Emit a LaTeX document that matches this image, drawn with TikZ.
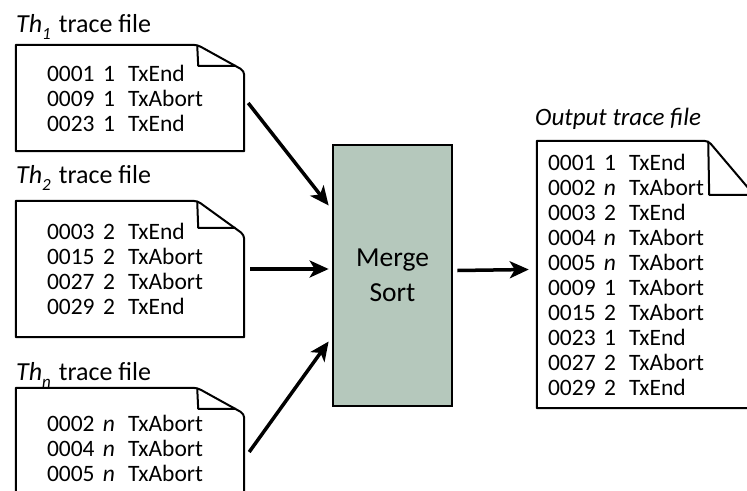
\documentclass[tikz,border=0pt]{standalone}
\usepackage{fontspec}
\setmainfont{Carlito}
\usepackage{tikz}
\usetikzlibrary{arrows.meta}
\definecolor{sortfill}{RGB}{181,200,188}
\newcommand{\thr}[1]{\textit{Th}\raisebox{-7pt}{\fontsize{17}{17}\selectfont\textit{#1}}\hspace{8pt}}
\newcommand{\ev}[3]{\makebox[53pt][l]{#1}\makebox[18pt]{#2}\hspace{10pt}#3}
% outline of a trace file: node, fold width, fold depth, flap depth
\newcommand{\tracedoc}[4]{%
	\draw[docline] (#1.south west) -- (#1.north west) [rounded corners=4pt] -- ([xshift=-#2pt]#1.north east) -- ([yshift=-#3pt]#1.north east) [sharp corners] -- (#1.south east) -- cycle;
	\draw[docline] ([xshift=-#2pt]#1.north east) -- ++(1pt,-#4pt) -- ([xshift={(-#2+#2*#4/#3+1)*1pt}, yshift=-#4pt]#1.north east);
}

\begin{document}
\begin{tikzpicture}[x=1pt, y=-1pt,
		docline/.style={line width=2pt, line join=round},
		docbox/.style={rectangle, inner ysep=0pt, align=left, font=\fontsize{23.5}{25}\selectfont},
		filetitle/.style={anchor=base west, inner sep=0pt, font=\fontsize{26}{30}\selectfont},
		flow/.style={line width=3.5pt, -{Stealth[length=19pt, width=17pt, inset=5pt]}}]
		\useasboundingbox (0,0) rectangle (747,490);
		\clip (0,0) rectangle (747,490);
		
		\draw (16,32) node[filetitle] (t1) {\thr{1}trace file};
		\draw (16,183) node[filetitle] (t2) {\thr{2}trace file};
		\draw (16,380) node[filetitle] (tn) {\thr{n}trace file};
		\draw (535,125) node[filetitle, font=\fontsize{25}{30}\selectfont] (tout) {\textit{Output trace file}};
		
		\draw (130,98) node[docbox, inner xsep=31pt, text width=166pt, minimum height=106pt] (f1) {\ev{0001}{1}{TxEnd}\\ \ev{0009}{1}{TxAbort}\\ \ev{0023}{1}{TxEnd}};
		\draw (130,269) node[docbox, inner xsep=31pt, text width=166pt, minimum height=136pt] (f2) {\ev{0003}{2}{TxEnd}\\ \ev{0015}{2}{TxAbort}\\ \ev{0027}{2}{TxAbort}\\ \ev{0029}{2}{TxEnd}};
		\draw (130,448) node[docbox, inner xsep=31pt, text width=166pt, minimum height=120pt] (fn) {\ev{0002}{\textit{n}}{TxAbort}\\ \ev{0004}{\textit{n}}{TxAbort}\\ \ev{0005}{\textit{n}}{TxAbort}};
		\draw (647.5,274.5) node[docbox, inner xsep=11pt, text width=199pt, minimum height=267pt] (out) {\ev{0001}{1}{TxEnd}\\ \ev{0002}{\textit{n}}{TxAbort}\\ \ev{0003}{2}{TxEnd}\\ \ev{0004}{\textit{n}}{TxAbort}\\ \ev{0005}{\textit{n}}{TxAbort}\\ \ev{0009}{1}{TxAbort}\\ \ev{0015}{2}{TxAbort}\\ \ev{0023}{1}{TxEnd}\\ \ev{0027}{2}{TxAbort}\\ \ev{0029}{2}{TxEnd}};
		
		\tracedoc{f1}{47}{26}{21}
		\tracedoc{f2}{47}{34}{27}
		\tracedoc{fn}{47}{26}{21}
		\tracedoc{out}{50}{59}{54}
		
		\draw (392.5,275.5) node[draw, line width=2.7pt, fill=sortfill, minimum width=119pt, minimum height=261pt, align=center, font=\fontsize{27.5}{35}\selectfont] (merge) {Merge\\Sort};
		
		\draw[flow] ([xshift=4pt,yshift=-5pt]f1.east) -- ([xshift=-3pt,yshift=70pt]merge.west);
		\draw[flow] ([xshift=6pt]f2.east) -- ([xshift=-3pt]merge.west |- f2.east);
		\draw[flow] ([xshift=5pt,yshift=-4pt]fn.east) -- ([xshift=-3pt,yshift=-66pt]merge.west);
		\draw[flow] ([xshift=4pt,yshift=5pt]merge.east) -- ([xshift=-8pt,yshift=5pt]out.west);
	\end{tikzpicture}
\end{document}
